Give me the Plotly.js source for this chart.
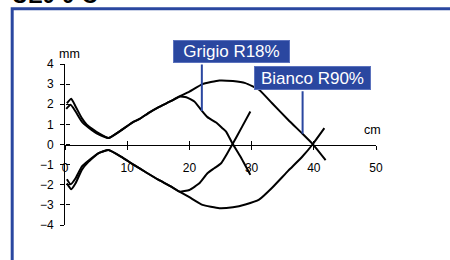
<!DOCTYPE html>
<html><head><meta charset="utf-8">
<script src="https://cdn.plot.ly/plotly-3.0.1.min.js"></script>
<style>html,body{margin:0;padding:0;background:#fff}#c{width:450px;height:260px}</style>
</head><body><div id="c"></div>
<script>
// Bianco R90% (outer contour)
const biancoUpX = [0.3, 1.0, 1.7, 2.7, 3.5, 5.4, 7.0, 9.0, 11.0, 12.0, 13.6, 15.0, 17.0, 18.4, 20.0, 22.1, 24.8, 27.0, 29.0, 31.2, 33.3, 35.9, 38.1, 39.8, 41.9];
const biancoUpY = [2.05, 2.27, 1.89, 1.31, 0.98, 0.56, 0.32, 0.7, 1.12, 1.27, 1.6, 1.85, 2.15, 2.38, 2.63, 3.0, 3.18, 3.15, 3.05, 2.72, 2.05, 1.22, 0.56, 0.03, -0.78];
const biancoLoX = [0.3, 1.0, 1.7, 2.7, 3.8, 5.4, 7.0, 9.0, 11.0, 13.0, 15.0, 17.0, 18.4, 20.0, 22.1, 24.8, 27.0, 29.0, 31.2, 33.3, 35.9, 38.1, 39.8, 41.7];
const biancoLoY = [-1.93, -2.22, -1.93, -1.26, -0.85, -0.43, -0.27, -0.6, -1.0, -1.38, -1.75, -2.08, -2.34, -2.62, -3.0, -3.17, -3.12, -2.98, -2.74, -2.15, -1.3, -0.62, 0.0, 0.81];
// Grigio R18% (inner contour)
const grigioUpX = [0.2, 0.9, 1.7, 2.7, 3.8, 5.4, 7.0, 9.0, 11.0, 12.0, 13.6, 15.0, 17.0, 18.4, 19.5, 20.8, 21.9, 22.9, 24.3, 25.3, 25.9, 26.9, 28.2, 29.8];
const grigioUpY = [1.77, 1.97, 1.64, 1.14, 0.84, 0.5, 0.32, 0.7, 1.12, 1.27, 1.6, 1.85, 2.15, 2.38, 2.35, 2.14, 1.72, 1.36, 1.09, 0.81, 0.64, 0.06, -0.6, -1.51];
const grigioLoX = [0.3, 0.9, 1.7, 2.7, 3.8, 5.4, 7.0, 9.0, 11.0, 13.0, 15.0, 17.0, 18.4, 20.0, 21.6, 22.9, 24.0, 25.1, 26.1, 26.9, 28.5, 29.8];
const grigioLoY = [-1.73, -1.98, -1.68, -1.1, -0.8, -0.43, -0.27, -0.6, -1.0, -1.38, -1.75, -2.08, -2.34, -2.26, -1.93, -1.43, -1.18, -0.93, -0.43, 0.0, 0.9, 1.64];

const xTicks = [0, 10, 20, 30, 40, 50];
const yTicks = [-4, -3, -2, -1, 0, 1, 2, 3, 4];
const labels = ["Grigio R18%", "Bianco R90%"];
const labelPointX = [22.0, 38.2];
const labelPointY = [1.67, 0.53];

const BLUE = '#2a47a0';
const FONT = 'Liberation Sans, Arial, sans-serif';
const ln = {color: '#000', width: 2, shape: 'spline', smoothing: 0.4};

const traces = [
  {x: biancoUpX, y: biancoUpY, mode: 'lines', line: ln, hoverinfo: 'skip'},
  {x: biancoLoX, y: biancoLoY, mode: 'lines', line: ln, hoverinfo: 'skip'},
  {x: grigioUpX, y: grigioUpY, mode: 'lines', line: ln, hoverinfo: 'skip'},
  {x: grigioLoX, y: grigioLoY, mode: 'lines', line: ln, hoverinfo: 'skip'},
  {x: [], y: [], xaxis: 'x2', yaxis: 'y2', mode: 'lines'}
];

const layout = {
  width: 450, height: 260,
  margin: {l: 65, r: 74, t: 64, b: 35},
  paper_bgcolor: '#fff', plot_bgcolor: 'rgba(0,0,0,0)',
  showlegend: false,
  font: {family: FONT, color: '#000', size: 12},
  xaxis: {range: [0, 50], anchor: 'free', position: 0.5, showline: true, linecolor: '#000', linewidth: 1,
          ticks: 'outside', ticklen: 4, tickcolor: '#000', tickvals: xTicks, ticklabelstandoff: 8,
          showgrid: false, zeroline: false, tickfont: {size: 12}},
  xaxis2: {range: [0, 50], overlaying: 'x', anchor: 'free', position: 0.5, showline: false,
           ticks: 'inside', ticklen: 4, tickcolor: '#000', tickvals: xTicks, showticklabels: false,
           showgrid: false, zeroline: false},
  yaxis: {range: [-4, 4], showline: true, linecolor: '#000', linewidth: 1, ticks: 'outside', ticklen: 4,
          tickcolor: '#000', tickvals: yTicks, ticklabelstandoff: 4, showgrid: false, zeroline: false,
          tickfont: {size: 12}},
  yaxis2: {range: [-4, 4], overlaying: 'y', anchor: 'free', position: 0, showline: false, ticks: 'inside',
           ticklen: 4, tickcolor: '#000', tickvals: yTicks, showticklabels: false, showgrid: false, zeroline: false},
  shapes: [
    {type: 'path', xref: 'paper', yref: 'paper',
     path: 'M -0.1698 -0.3 L -0.1698 1.3435 L 1.3 1.3435', line: {color: BLUE, width: 3}}
  ],
  annotations: [
    {text: '<b>UE0-0-C</b>', xref: 'paper', yref: 'paper', x: -0.174, y: 1.34, xanchor: 'left', yanchor: 'bottom',
     showarrow: false, font: {size: 22, color: '#000', family: FONT}, borderpad: 0},
    {text: 'mm', xref: 'paper', yref: 'paper', x: 0.013, y: 1.06, xanchor: 'center', yanchor: 'middle',
     showarrow: false, font: {size: 12.5}},
    {text: 'cm', xref: 'paper', yref: 'paper', x: 0.989, y: 0.59, xanchor: 'center', yanchor: 'middle',
     showarrow: false, font: {size: 12.5}},
    {text: labels[0], xref: 'paper', yref: 'paper', x: 0.348, y: 1.149, xanchor: 'left', yanchor: 'top',
     showarrow: false, bgcolor: BLUE, bordercolor: '#5b72bd', borderwidth: 1, borderpad: 2, width: 111, height: 17,
     font: {size: 17, color: '#fff', family: FONT}},
    {text: labels[1], xref: 'paper', yref: 'paper', x: 0.6077, y: 0.9876, xanchor: 'left', yanchor: 'top',
     showarrow: false, bgcolor: BLUE, bordercolor: '#5b72bd', borderwidth: 1, borderpad: 2, width: 111, height: 18,
     font: {size: 17, color: '#fff', family: FONT}},
    {text: '', x: labelPointX[0], y: labelPointY[0], xref: 'x', yref: 'y', showarrow: true, arrowhead: 0,
     arrowwidth: 2, arrowcolor: BLUE, ax: 0, ay: -48, standoff: 0},
    {text: '', x: labelPointX[1], y: labelPointY[1], xref: 'x', yref: 'y', showarrow: true, arrowhead: 0,
     arrowwidth: 2, arrowcolor: BLUE, ax: 0, ay: -44, standoff: 0}
  ]
};

Plotly.newPlot('c', traces, layout, {staticPlot: true, displayModeBar: false});
</script></body></html>
